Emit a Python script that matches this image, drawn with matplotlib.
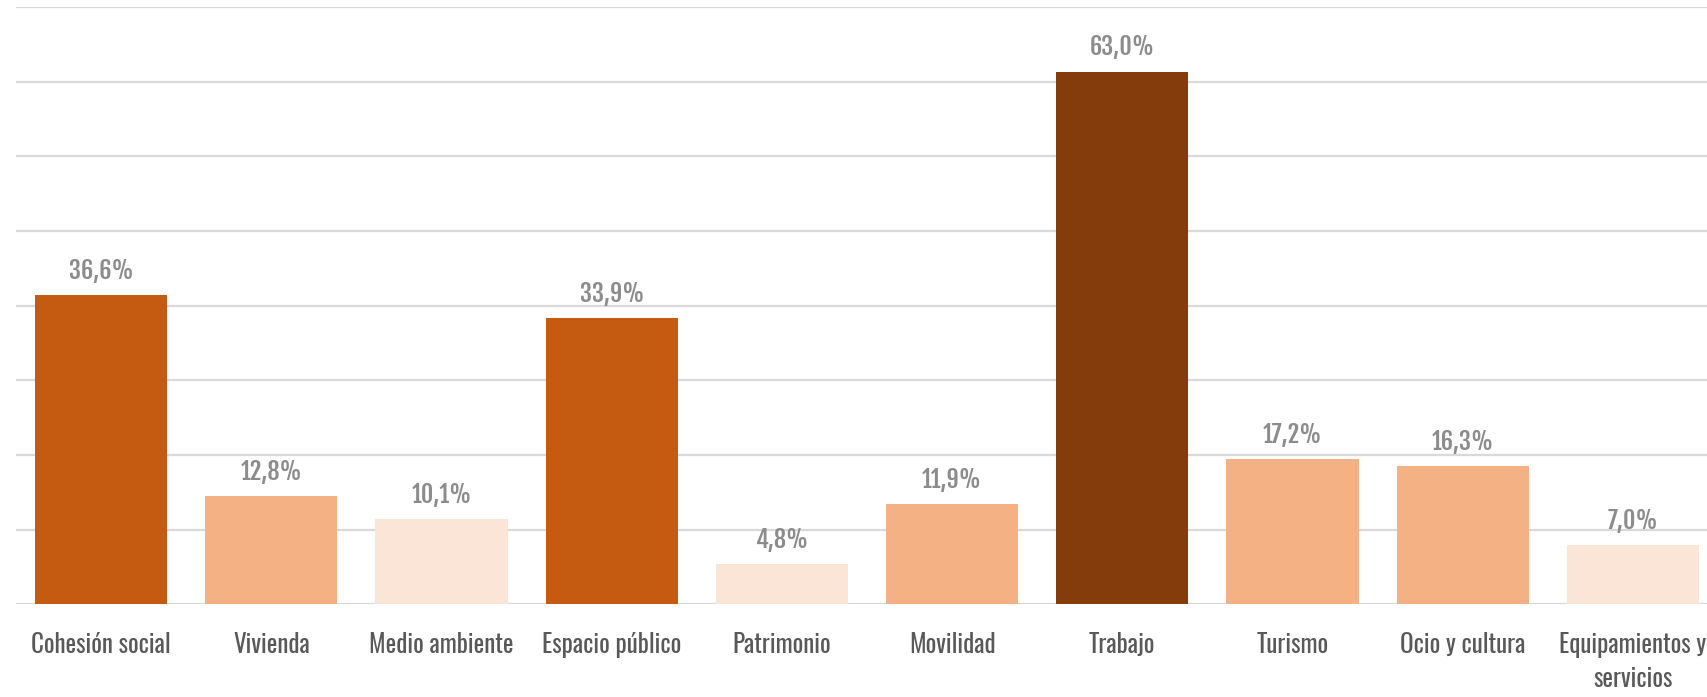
import matplotlib.pyplot as plt
from matplotlib import font_manager

categories = ["Cohesión social", "Vivienda", "Medio ambiente", "Espacio público", "Patrimonio",
              "Movilidad", "Trabajo", "Turismo", "Ocio y cultura", "Equipamientos y\nservicios"]
values = [36.6, 12.8, 10.1, 33.9, 4.8, 11.9, 63.0, 17.2, 16.3, 7.0]
labels = ["36,6%", "12,8%", "10,1%", "33,9%", "4,8%", "11,9%", "63,0%", "17,2%", "16,3%", "7,0%"]
colors = ["#C55A11", "#F4B183", "#FBE5D6", "#C55A11", "#FBE5D6",
          "#F4B183", "#843C0C", "#F4B183", "#F4B183", "#FBE5D6"]

names = {f.name for f in font_manager.fontManager.ttflist}
cat_font = [n for n in ["Oswald", "Archivo Narrow"] if n in names][:1] + ["DejaVu Sans"]
val_font = [n for n in ["Fjalla One", "Barlow Condensed"] if n in names][:1] + ["DejaVu Sans"]
plt.rcParams['font.family'] = cat_font

step = 8.83
fig = plt.figure(figsize=(17.07, 6.97), dpi=100)
ax = fig.add_axes([16 / 1707, 92.7 / 697, 1702 / 1707, 597.3 / 697])

x = list(range(len(values)))
ax.bar(x, values, width=0.776, color=colors, zorder=2)

for xi, v, lab in zip(x, values, labels):
    ax.annotate(lab, (xi, v), xytext=(0, 8), textcoords="offset points",
                ha="center", va="bottom", fontsize=17.5, family=val_font, color="#8C8C8C")

ax.set_xlim(-0.5, 9.5)
ax.set_ylim(0, 8 * step)
ax.set_yticks([step * i for i in range(9)])
ax.yaxis.grid(True, color="#D9D9D9", linewidth=1.6, zorder=0)
ax.tick_params(axis="y", left=False, labelleft=False)
ax.set_xticks(x)
ax.set_xticklabels(categories, fontsize=18, color="#595959", linespacing=1.4)
ax.tick_params(axis="x", length=0, pad=20)
for s in ax.spines.values():
    s.set_visible(False)

fig.savefig("out.png", dpi=100)
